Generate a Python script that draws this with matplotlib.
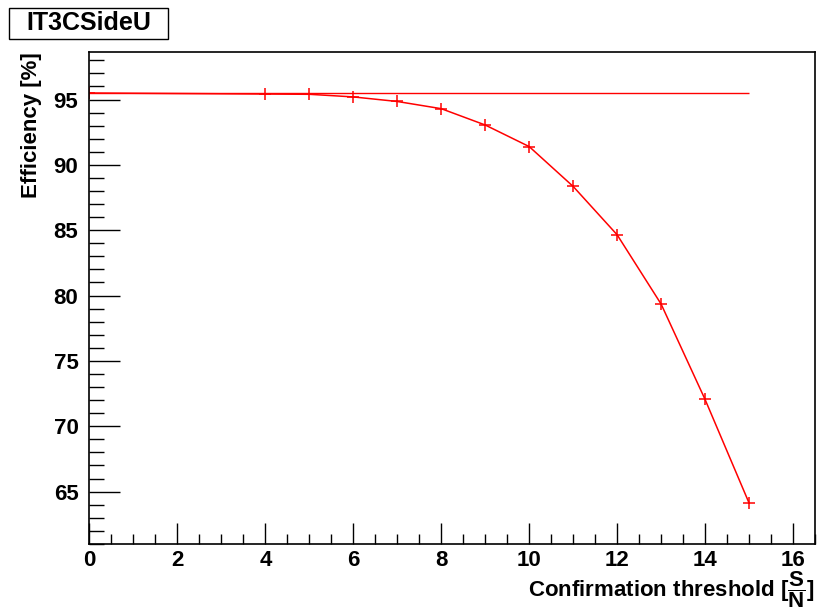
import numpy as np
import matplotlib
matplotlib.use("Agg")
import matplotlib.pyplot as plt
from matplotlib.patches import Rectangle

# =========================
# data
# =========================
thresholds = [0, 4, 5, 6, 7, 8, 9, 10, 11, 12, 13, 14, 15]
efficiency = [95.5, 95.42, 95.4, 95.2, 94.85, 94.3, 93.05, 91.4, 88.35, 84.65, 79.35, 72.05, 64.13]
title = "IT3CSideU"

plt.rcParams['font.family'] = ['Liberation Sans', 'DejaVu Sans']
plt.rcParams['font.weight'] = 'bold'
plt.rcParams['mathtext.fontset'] = 'custom'
plt.rcParams['mathtext.rm'] = 'Liberation Sans:bold'
plt.rcParams['mathtext.it'] = 'Liberation Sans:bold'
plt.rcParams['mathtext.bf'] = 'Liberation Sans:bold'

fig = plt.figure(figsize=(8.21, 6.11), dpi=100)
ax = fig.add_axes([0.109, 0.1097, 0.8837, 0.8052])

# reference line at the threshold-0 efficiency
ax.hlines(efficiency[0], thresholds[0], thresholds[-1], color='#ff0000', lw=1)
ax.plot(thresholds, efficiency, color='#ff0000', lw=1.1, marker='+', ms=9, mew=1.1)

# ROOT style automatic range
ymin, ymax = min(efficiency), max(efficiency)
dy = ymax - ymin
ax.set_ylim(ymin - 0.1 * dy, ymax + 0.1 * dy)
ax.set_xlim(0, thresholds[-1] * 1.1)

ax.set_xticks(np.arange(0, 17, 2))
ax.set_xticks(np.arange(0, 16.6, 0.5), minor=True)
ax.set_yticks(np.arange(65, 96, 5))
ax.set_yticks(np.arange(61, 99, 1), minor=True)

ax.tick_params(axis='both', which='both', direction='in', top=False, right=False,
               labelsize=16, width=1, color='black')
ax.tick_params(axis='y', which='major', length=22, pad=8)
ax.tick_params(axis='y', which='minor', length=11)
ax.tick_params(axis='x', which='major', length=15, pad=4)
ax.tick_params(axis='x', which='minor', length=7)
for s in ax.spines.values():
    s.set_linewidth(1.2)

ax.set_xlabel(r'Confirmation threshold [$\dfrac{S}{N}$]', fontsize=16, fontweight='bold',
              ha='right', va='baseline')
ax.xaxis.set_label_coords(1.0, -0.107)
ax.set_ylabel('Efficiency [%]', fontsize=16, fontweight='bold', ha='right', va='center')
ax.yaxis.set_label_coords(-0.08, 1.0)

# title box
fig.patches.append(Rectangle((9 / 821, 1 - 39 / 611), 159 / 821, 31 / 611,
                             transform=fig.transFigure, fill=False, lw=1, ec='black'))
fig.text((9 + 168) / 2 / 821, 1 - 23.5 / 611, title, ha='center', va='center',
         fontsize=18, fontweight='bold')

fig.savefig("out.png", dpi=100)
